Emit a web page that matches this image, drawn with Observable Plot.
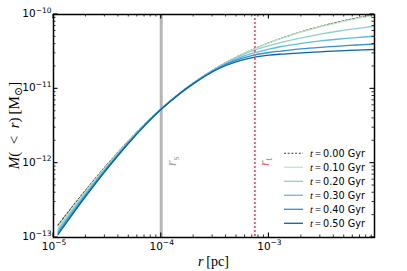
<!DOCTYPE html>
<html><head><meta charset="utf-8">
<script src="https://cdn.jsdelivr.net/npm/d3@7"></script>
<script src="https://cdn.jsdelivr.net/npm/@observablehq/plot@0.6"></script>
<style>body{margin:0;background:#fff;overflow:hidden}#chart{position:absolute;left:0;top:0}</style>
</head><body><div id="chart"></div>
<script>
// radius grid [pc]
const radii = [1.1e-5, 1.5e-5, 2e-5, 3e-5, 5e-5, 7e-5, 1e-4, 1.5e-4, 2e-4, 3e-4, 4e-4, 5.5e-4, 7.4e-4, 1e-3, 1.3e-3, 2e-3, 3e-3, 4.5e-3, 6.5e-3, 9.5e-3];
// enclosed mass M(<r) [Msun] for each time
const mass_t000 = [1.47e-13, 2.61e-13, 4.38e-13, 8.85e-13, 2.02e-12, 3.33e-12, 5.41e-12, 8.86e-12, 1.21e-11, 1.78e-11, 2.27e-11, 2.87e-11, 3.49e-11, 4.17e-11, 4.8e-11, 5.86e-11, 6.9e-11, 7.98e-11, 8.97e-11, 9.95e-11];
const mass_t010 = [1.37e-13, 2.47e-13, 4.2e-13, 8.6e-13, 1.99e-12, 3.30e-12, 5.40e-12, 8.85e-12, 1.21e-11, 1.78e-11, 2.26e-11, 2.86e-11, 3.47e-11, 4.14e-11, 4.76e-11, 5.8e-11, 6.82e-11, 7.86e-11, 8.82e-11, 9.78e-11];
const mass_t020 = [1.29e-13, 2.35e-13, 4.03e-13, 8.35e-13, 1.96e-12, 3.28e-12, 5.38e-12, 8.83e-12, 1.203e-11, 1.765e-11, 2.243e-11, 2.80e-11, 3.33e-11, 3.82e-11, 4.22e-11, 4.86e-11, 5.44e-11, 6.0e-11, 6.47e-11, 6.95e-11];
const mass_t030 = [1.21e-13, 2.24e-13, 3.87e-13, 8.12e-13, 1.93e-12, 3.25e-12, 5.36e-12, 8.79e-12, 1.195e-11, 1.745e-11, 2.187e-11, 2.67e-11, 3.06e-11, 3.42e-11, 3.71e-11, 4.1e-11, 4.42e-11, 4.68e-11, 4.9e-11, 5.1e-11];
const mass_t040 = [1.15e-13, 2.14e-13, 3.73e-13, 7.9e-13, 1.90e-12, 3.22e-12, 5.34e-12, 8.74e-12, 1.185e-11, 1.72e-11, 2.13e-11, 2.54e-11, 2.86e-11, 3.08e-11, 3.22e-11, 3.44e-11, 3.61e-11, 3.76e-11, 3.89e-11, 4.01e-11];
const mass_t050 = [1.09e-13, 2.05e-13, 3.6e-13, 7.7e-13, 1.87e-12, 3.19e-12, 5.32e-12, 8.69e-12, 1.175e-11, 1.695e-11, 2.06e-11, 2.41e-11, 2.67e-11, 2.84e-11, 2.93e-11, 3.04e-11, 3.15e-11, 3.24e-11, 3.32e-11, 3.38e-11];
const timeLabels = ["0.00", "0.10", "0.20", "0.30", "0.40", "0.50"];
const seriesMass = [mass_t000, mass_t010, mass_t020, mass_t030, mass_t040, mass_t050];
const seriesColors = ["#3a3a3a", "#bfe6c3", "#8fd2cb", "#62bbe0", "#3590cc", "#0b62ab"];
// characteristic radii
const r_s = 1e-4;
const r_t = 7.4e-4;
// axis ticks
const xTicks = [1e-5, 1e-4, 1e-3];
const xTickExps = ["\u22125", "\u22124", "\u22123"];
const yTicks = [1e-13, 1e-12, 1e-11, 1e-10];
const yTickExps = ["\u221213", "\u221212", "\u221211", "\u221210"];

const rows = [];
seriesMass.forEach((arr, i) => arr.forEach((m, j) => rows.push({r: radii[j], M: m, t: timeLabels[i]})));
const evolved = rows.filter(d => d.t !== "0.00");
const initial = rows.filter(d => d.t === "0.00");

const chart = Plot.plot({
  width: 407, height: 271,
  marginLeft: 53, marginRight: 33, marginTop: 14, marginBottom: 34,
  style: {background: "white", overflow: "visible"},
  x: {type: "log", domain: [1e-5, 9.55e-3], axis: null},
  y: {type: "log", domain: [1e-13, 1e-10], axis: null},
  color: {domain: timeLabels, range: seriesColors},
  marks: [
    Plot.ruleX([r_s], {stroke: "#b5b5b5", strokeWidth: 3}),
    Plot.line(initial, {x: "r", y: "M", stroke: "t", strokeWidth: 1.1, strokeDasharray: "2,1.7", curve: "catmull-rom"}),
    Plot.line(evolved, {x: "r", y: "M", z: "t", stroke: "t", strokeWidth: 1.3, curve: "catmull-rom"}),
    Plot.ruleX([r_t], {stroke: "#ee5f7e", strokeWidth: 2, strokeDasharray: "2,2"}),
    Plot.frame({stroke: "black", strokeWidth: 1.5})
  ]
});
document.getElementById("chart").append(chart);

const svg = d3.select(chart);
const X = chart.scale("x"), Y = chart.scale("y");
const [yb, yt] = Y.range; // bottom, top
const [xl, xr] = X.range;
const g = svg.append("g").attr("stroke", "black");
function seg(x1, y1, x2, y2, w) {
  g.append("line").attr("x1", x1).attr("y1", y1).attr("x2", x2).attr("y2", y2).attr("stroke-width", w);
}
// x ticks
for (let e = -6; e <= -2; e++) for (let k = 1; k <= 9; k++) {
  const v = k * Math.pow(10, e);
  if (v < X.domain[0] * 0.999 || v > X.domain[1]) continue;
  const px = X.apply(v), major = k === 1, L = major ? 4.5 : 2.5, w = major ? 1.1 : 0.8;
  seg(px, yb, px, yb - L, w); seg(px, yt, px, yt + L, w);
}
for (let e = -14; e <= -10; e++) for (let k = 1; k <= 9; k++) {
  const v = k * Math.pow(10, e);
  if (v < Y.domain[0] * 0.999 || v > Y.domain[1] * 1.001) continue;
  const py = Y.apply(v), major = k === 1, L = major ? 4.5 : 2.5, w = major ? 1.1 : 0.8;
  seg(xl, py, xl + L, py, w); seg(xr, py, xr - L, py, w);
}
const sans = "DejaVu Sans, sans-serif", serif = "Liberation Serif, DejaVu Serif, serif";
// tick labels
xTicks.forEach((v, i) => {
  const t = svg.append("text").attr("x", X.apply(v) + 1).attr("y", yb + 12.5)
    .attr("text-anchor", "middle").attr("font-family", sans).attr("font-size", 10.5).attr("fill", "black");
  t.append("tspan").text("10");
  t.append("tspan").attr("dy", -4.5).attr("font-size", 7.5).text(xTickExps[i]);
});
yTicks.forEach((v, i) => {
  const t = svg.append("text").attr("x", xl - 1.5).attr("y", Y.apply(v) + 3)
    .attr("text-anchor", "end").attr("font-family", sans).attr("font-size", 10.5).attr("fill", "black");
  t.append("tspan").text("10");
  t.append("tspan").attr("dy", -4.5).attr("font-size", 7.5).text(yTickExps[i]);
});
// axis titles
const xt = svg.append("text").attr("x", (xl + xr) / 2).attr("y", 265.5).attr("text-anchor", "middle")
  .attr("font-family", serif).attr("font-size", 14).attr("fill", "black");
xt.append("tspan").attr("font-style", "italic").text("r");
xt.append("tspan").text("\u2009[pc]");
const yl = svg.append("text").attr("transform", `translate(19,${(yb + yt) / 2}) rotate(-90)`).attr("text-anchor", "middle")
  .attr("font-family", serif).attr("font-size", 15).attr("fill", "black");
yl.append("tspan").attr("font-style", "italic").text("M");
yl.append("tspan").text("(\u2002<\u2002");
yl.append("tspan").attr("font-style", "italic").text("r");
yl.append("tspan").text(")\u2009[M");
yl.append("tspan").attr("dy", 3).attr("font-size", 11).text("\u2299");
yl.append("tspan").attr("dy", -3).text("]");
// radius annotations
function radLabel(v, sub, color) {
  const t = svg.append("text").attr("transform", `translate(${X.apply(v) + 15},166) rotate(-90)`)
    .attr("text-anchor", "start").attr("font-family", serif).attr("font-size", 14).attr("fill", color);
  t.append("tspan").attr("font-style", "italic").text("r");
  t.append("tspan").attr("dy", 3).attr("font-size", 10).text(sub);
}
radLabel(r_s, "s", "#a0a0a0");
radLabel(r_t, "t", "#ee5f7e");
// legend
const lg = svg.append("g");
timeLabels.forEach((lab, i) => {
  const y = 153.3 + 14 * i;
  const ln = lg.append("line").attr("x1", 284).attr("x2", 303).attr("y1", y).attr("y2", y)
    .attr("stroke", seriesColors[i]).attr("stroke-width", i === 0 ? 1.1 : 1.3);
  if (i === 0) ln.attr("stroke-dasharray", "2,1.7");
  const t = lg.append("text").attr("x", 310).attr("y", y + 3.4).attr("text-anchor", "start")
    .attr("font-family", sans).attr("font-size", 9.7).attr("fill", "black");
  t.append("tspan").attr("font-family", serif).attr("font-style", "italic").attr("font-size", 10.5).text("t");
  t.append("tspan").attr("font-family", serif).attr("font-size", 10.5).text("\u2009=\u2009");
  t.append("tspan").text(lab + " Gyr");
});
</script></body></html>
